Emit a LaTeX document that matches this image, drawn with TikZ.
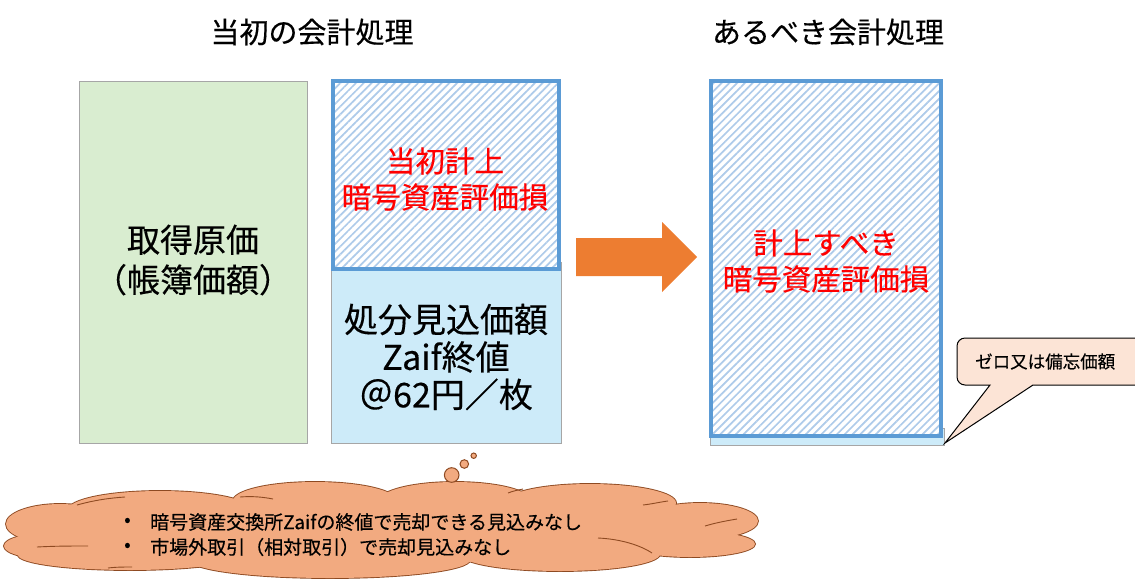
\documentclass[tikz,border=0pt]{standalone}
\usepackage{fontspec}
\setmainfont{Noto Sans CJK JP}[FakeBold=0.35]
\usetikzlibrary{patterns.meta}
\definecolor{hatchblue}{HTML}{AECBEA}
\definecolor{borderblue}{HTML}{5B9BD5}
\definecolor{lightblue}{HTML}{CDEBF9}
\definecolor{lightgreen}{HTML}{D9EDD0}
\definecolor{boxgray}{HTML}{A6A6A6}
\definecolor{arroworange}{HTML}{ED7D31}
\definecolor{peach}{HTML}{FCE4D6}
\definecolor{salmon}{HTML}{F2AA80}
\definecolor{cloudedge}{HTML}{8E4A22}
\begin{document}
\begin{tikzpicture}[x=1pt,y=-1pt,
  plainbox/.style={draw=boxgray,line width=0.8pt},
  hatchbox/.style={draw=borderblue,line width=4.5pt,preaction={fill=white},
    pattern={Lines[angle=45,distance=5.5pt,line width=1.7pt]},pattern color=hatchblue},
  title/.style={font=\fontsize{29}{33}\selectfont,text=black},
  bigtext/.style={font=\fontsize{33}{40}\selectfont,align=center,text=black,inner sep=0pt},
  redtext/.style={font=\fontsize{29.5}{36}\selectfont,align=center,text=red,inner sep=0pt},
  cloudtext/.style={font=\fontsize{19}{22}\selectfont,anchor=west,text=black,inner sep=0pt},
  lobe/.style={draw=cloudedge,line width=1.8pt},
  lobefill/.style={fill=salmon},
  innerstroke/.style={draw=cloudedge,line width=0.9pt},
  bubble/.style={draw=cloudedge,line width=1pt,fill=salmon}]
\useasboundingbox (0,0) rectangle (1135,579);
% titles
\node[title] (t1) at (312,32) {当初の会計処理};
\node[title] (t2) at (828,32) {あるべき会計処理};
% green box
\draw[plainbox,fill=lightgreen] (79,81) rectangle (307,443);
\node[bigtext] (acq) at (193,260) {取得原価\\（帳簿価額）};
% left light blue box and hatched box
\draw[plainbox,fill=lightblue] (331,262) rectangle (561,443);
\draw[hatchbox] (333,81) rectangle (559,269);
\node[redtext] (r1) at (445,179) {当初計上\\暗号資産評価損};
\node[bigtext,font=\fontsize{34}{37.5}\selectfont] (disp) at (446,357) {処分見込価額\\Zaif終値\\＠62円／枚};
% block arrow
\fill[arroworange] (576,238) -- (662,238) -- (662,222) -- (697,257) -- (662,292)
  -- (662,276) -- (576,276) -- cycle;
% right boxes
\draw[plainbox,fill=lightblue] (710,428) rectangle (944,445);
\draw[hatchbox] (711,81) rectangle (941,436);
\node[redtext] (r2) at (826,261) {計上すべき\\暗号資産評価損};
% callout
\coordinate (ptr) at (945,443);
\draw[draw=black,line width=1pt,fill=peach]
  (990,385) [rounded corners=8pt] -- (957,385) -- (957,338) -- (1150,338) -- (1150,385)
  [sharp corners] -- (1033,385) -- (ptr) -- cycle;
\node[font=\fontsize{17.5}{21}\selectfont,text=black,anchor=west,inner sep=0pt] (call) at (975,361.5) {ゼロ又は備忘価額};
% cloud: outline of union of lobes
\foreach \cx/\cy/\rx/\ry in {60/524/54/20, 160/510/92/19, 315/501/82/19, 455/501/76/19,
   590/503/86/19, 700/521/58/18, 690/544/65/13, 560/554/100/17, 330/560/140/18,
   130/555/112/15, 50/546/46/13}
  {\path[lobe] (\cx,\cy) ellipse ({\rx} and {\ry});}
\foreach \cx/\cy/\rx/\ry in {60/524/54/20, 160/510/92/19, 315/501/82/19, 455/501/76/19,
   590/503/86/19, 700/521/58/18, 690/544/65/13, 560/554/100/17, 330/560/140/18,
   130/555/112/15, 50/546/46/13}
  {\path[lobefill] (\cx,\cy) ellipse ({\rx} and {\ry});}
\path[lobefill] (380,530) ellipse (330 and 33);
\node[inner sep=0pt,minimum size=0pt] (cl) at (380,530) {};
% inner strokes
\draw[innerstroke] (77,505) .. controls (95,500) and (110,498) .. (125,497);
\draw[innerstroke] (240,497) .. controls (252,496) and (263,497) .. (273,499);
\draw[innerstroke] (508,493) .. controls (513,491) and (518,490) .. (523,489);
\draw[innerstroke] (643,505) .. controls (652,504) and (660,502) .. (668,501);
\draw[innerstroke] (705,526) .. controls (715,523) and (725,521) .. (737,519);
\draw[innerstroke] (598,538) .. controls (620,539) and (640,545) .. (652,553);
\draw[innerstroke] (37,547) .. controls (55,546) and (72,546) .. (88,546);
\draw[innerstroke] (108,568) .. controls (116,567) and (124,567) .. (132,567);
% thought bubbles
\draw[bubble] (451.7,475) circle (7.3);
\draw[bubble] (464.3,464) circle (4.3);
\draw[bubble] (473.7,455.7) circle (2.7);
% cloud text
\node[cloudtext] (b1) at (124,522) {•};
\node[cloudtext] (l1) at (150,522) {暗号資産交換所Zaifの終値で売却できる見込みなし};
\node[cloudtext] (b2) at (124,547) {•};
\node[cloudtext] (l2) at (150,547) {市場外取引（相対取引）で売却見込みなし};
\end{tikzpicture}
\end{document}
